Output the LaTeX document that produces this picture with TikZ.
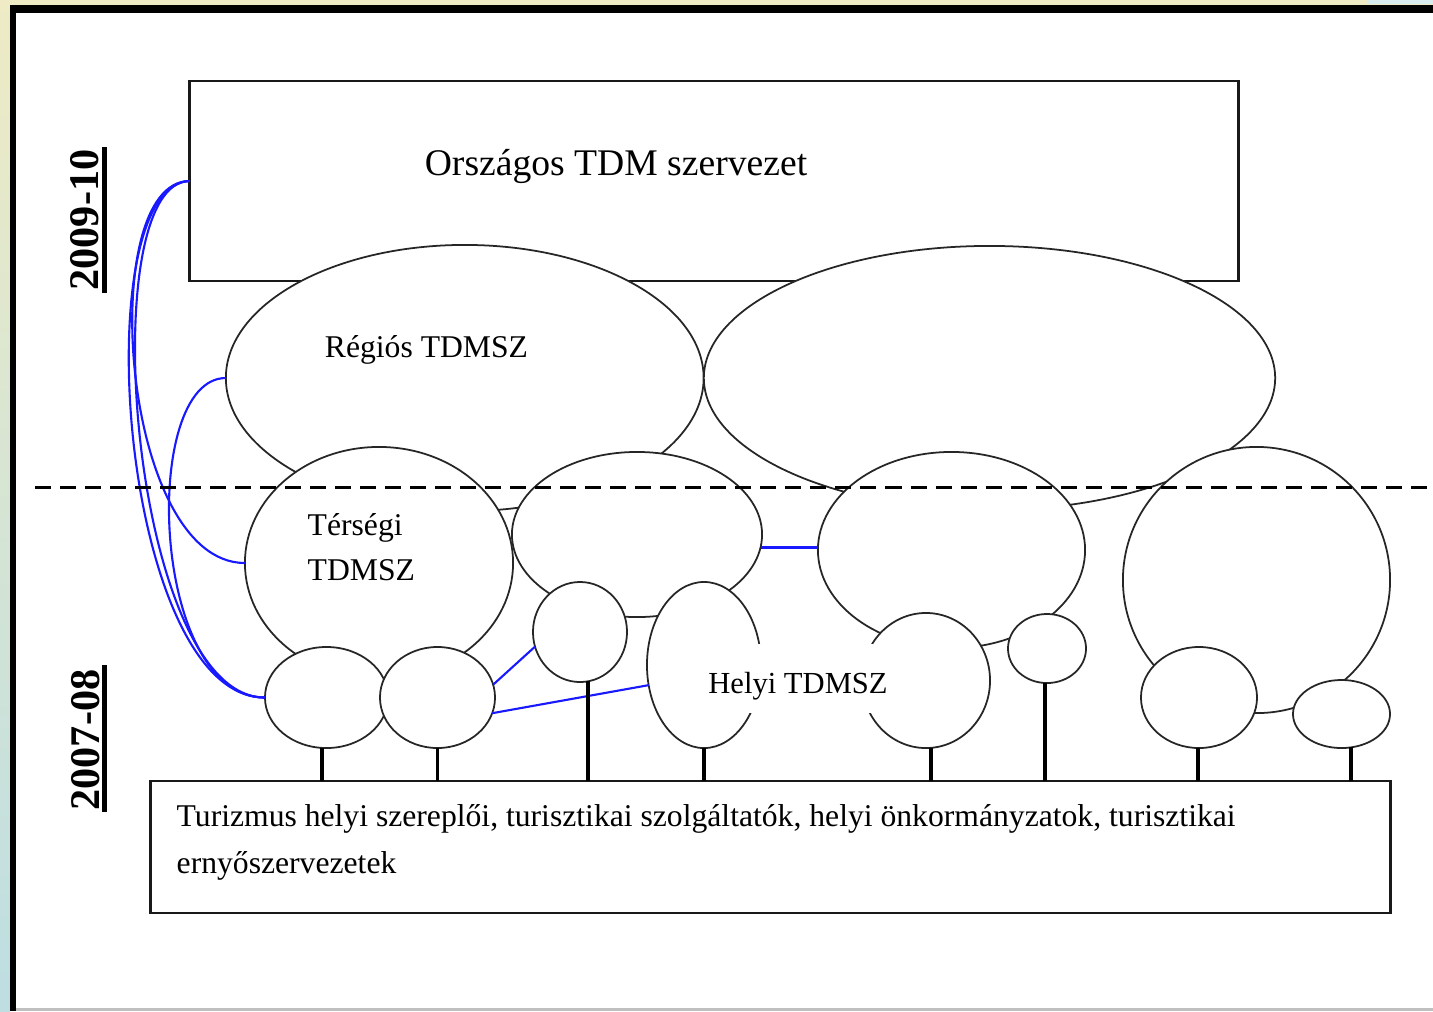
\documentclass[tikz,border=0pt]{standalone}
\usepackage{fontspec}
\setmainfont{Liberation Serif}
\usetikzlibrary{shapes.geometric}
\definecolor{cream}{RGB}{238,235,197}
\definecolor{paleblue}{RGB}{190,222,226}
\definecolor{linkblue}{RGB}{25,25,255}
\begin{document}
\begin{tikzpicture}[x=0.01cm,y=-0.01cm,
  oval/.style={ellipse, draw=black!85, line width=0.5pt, fill=white, inner sep=0pt, outer sep=0pt},
  frame/.style={draw=black!90, line width=0.7pt, fill=white, inner sep=0pt, outer sep=0pt},
  link/.style={draw=linkblue, line width=0.6pt},
  stem/.style={draw=black, line width=1.1pt},
  lbl/.style={inner sep=0pt, font=\fontsize{9}{11}\selectfont},
  yearlbl/.style={rotate=90, inner sep=0pt, font=\fontsize{12}{14}\selectfont\bfseries},
  bar/.style={line width=1.4pt},
  divider/.style={line width=0.85pt, dash pattern=on 0.16cm off 0.09cm}
]
\useasboundingbox (0,0) rectangle (1433,1011);
% page background and window frame
\fill[white] (0,0) rectangle (1433,1011);
\shade[top color=cream, bottom color=paleblue] (0,0) rectangle (10,1011);
\fill[cream] (10,0) rectangle (1433,5);
\fill[paleblue!60!white] (1367,0) rectangle (1433,4);
\fill[black] (10,5) rectangle (16,1011);
\fill[black] (10,5) rectangle (1433,13);
\draw[black!25, line width=0.6pt] (16,1009.5) -- (1433,1009.5);

% national level
\node[frame, minimum width=10.48cm, minimum height=2.0cm] (nat) at (714,181) {};
\node[lbl, font=\fontsize{10.7}{13}\selectfont, anchor=base] (natlbl) at (616,175) {Országos TDM szervezet};

% regional level
\node[oval, minimum width=4.775cm, minimum height=2.66cm] (R1) at (464.75,378) {};
\node[oval, minimum width=5.71cm, minimum height=2.64cm] (R2) at (989.5,378) {};
\node[lbl, anchor=base] (R1lbl) at (426.5,357) {Régiós TDMSZ};

% area level
\node[oval, minimum width=2.68cm, minimum height=2.32cm] (T1) at (379,563) {};
\node[oval, minimum width=2.50cm, minimum height=1.65cm] (T2) at (637,534.5) {};
\node[oval, minimum width=2.67cm, minimum height=1.96cm] (T3) at (951.5,550) {};
\node[oval, minimum width=2.67cm, minimum height=2.66cm] (T4) at (1256.5,580) {};
\node[lbl, anchor=base west] (T1lbla) at (307,535) {Térségi};
\node[lbl, anchor=base west] (T1lblb) at (307,580) {TDMSZ};

% local level
\node[oval, minimum width=1.23cm, minimum height=1.01cm] (H1) at (326.5,697.5) {};
\node[oval, minimum width=1.15cm, minimum height=1.01cm] (H2) at (437.5,697.5) {};
\node[oval, minimum width=0.94cm, minimum height=1.00cm] (H3) at (580,632) {};
\node[oval, minimum width=1.14cm, minimum height=1.66cm] (H4) at (704,665) {};
\node[oval, minimum width=1.28cm, minimum height=1.35cm] (H5) at (926,680.5) {};
\node[oval, minimum width=0.78cm, minimum height=0.69cm] (H6) at (1047,648.5) {};
\node[oval, minimum width=1.16cm, minimum height=1.01cm] (H7) at (1199,697.5) {};
\node[oval, minimum width=0.97cm, minimum height=0.68cm] (H8) at (1341.5,714) {};

% local actors
\node[frame, minimum width=12.39cm, minimum height=1.32cm] (base) at (770.5,847) {};
\node[lbl, font=\fontsize{9.0}{11}\selectfont, anchor=base west] (basea) at (176,826) {Turizmus helyi szereplői, turisztikai szolgáltatók, helyi önkormányzatok, turisztikai};
\node[lbl, font=\fontsize{9.0}{11}\selectfont, anchor=base west] (baseb) at (176,873) {ernyőszervezetek};

% blue links
\draw[link] (nat.west) .. controls (95,181) and (120,563) .. (T1.west);
\draw[link] (nat.west) .. controls (84,185) and (120,698) .. (H1.west);
\draw[link] (nat.west) .. controls (92,181) and (130,698) .. (H1.west);
\draw[link] (R1.west) .. controls (140,378) and (150,698) .. (H1.west);
\draw[link] (T2.-6) -- (T2.-6 -| T3.west);
\draw[link] (H2.13) -- (H3.198);
\draw[link] (H2.-16) -- (H4.200);

% stems
\draw[stem] (H1.-95) -- (H1.-95 |- base.north);
\draw[stem] (H2.-90) -- (H2.-90 |- base.north);
\draw[stem] (H3.-81) -- (H3.-81 |- base.north);
\draw[stem] (H4.-90) -- (H4.-90 |- base.north);
\draw[stem] (H5.-86) -- (H5.-86 |- base.north);
\draw[stem] (H6.-93) -- (H6.-93 |- base.north);
\draw[stem] (H7.-91) -- (H7.-91 |- base.north);
\draw[stem] (H8.-74) -- (H8.-74 |- base.north);

% local label
\node[lbl, fill=white, anchor=base, text height=14pt, text depth=5.7pt, font=\fontsize{8.7}{10}\selectfont] (Hlbl) at (798,693) {Helyi TDMSZ};

% period divider
\coordinate (dl) at (35,487);
\coordinate (dr) at (1433,487);
\draw[divider] (dl) -- (dr);

% period labels
\node[yearlbl] (y1) at (85,220) {2009-10};
\node[yearlbl] (y2) at (86,740) {2007-08};
\draw[bar] (104.5,147) -- (104.5,293);
\draw[bar] (104.5,665) -- (104.5,812);
\end{tikzpicture}
\end{document}
